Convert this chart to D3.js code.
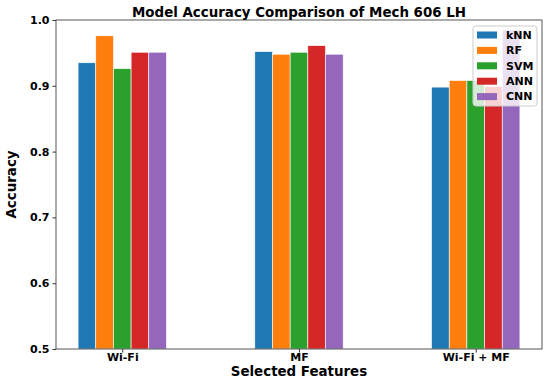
<!DOCTYPE html>
<html>
<head>
<meta charset="utf-8">
<script src="https://cdn.jsdelivr.net/npm/d3@7"></script>
<style>
  body { margin: 0; background: #fff; }
  text { font-family: "DejaVu Sans", sans-serif; font-weight: bold; }
</style>
</head>
<body>
<svg width="550" height="384"></svg>
<script>
var categories = ["Wi-Fi", "MF", "Wi-Fi + MF"];
var models = ["kNN", "RF", "SVM", "ANN", "CNN"];
var colors = ["#1f77b4", "#ff7f0e", "#2ca02c", "#d62728", "#9467bd"];
var knn = [0.935, 0.952, 0.898];
var rf  = [0.976, 0.948, 0.908];
var svmv = [0.926, 0.951, 0.908];
var ann = [0.951, 0.961, 0.899];
var cnn = [0.951, 0.948, 0.985];
var yTicks = [0.5, 0.6, 0.7, 0.8, 0.9, 1.0];

var series = [knn, rf, svmv, ann, cnn];

var svg = d3.select("svg"),
    margin = {top: 20, right: 8, bottom: 35, left: 56},
    width = +svg.attr("width") - margin.left - margin.right,
    height = +svg.attr("height") - margin.top - margin.bottom,
    g = svg.append("g").attr("transform", "translate(" + margin.left + "," + margin.top + ")");

var barW = 0.1;
var x = d3.scaleLinear().domain([-0.375, 2.375]).range([0, width]);
var y = d3.scaleLinear().domain([0.5, 1.0]).range([height, 0]);

// bars
series.forEach(function(vals, si) {
    g.selectAll(".bar" + si)
        .data(vals)
        .enter().append("rect")
        .attr("x", function(d, i) { return x(i + (si - 2.5) * barW); })
        .attr("y", function(d) { return y(d); })
        .attr("width", x(barW) - x(0))
        .attr("height", function(d) { return y(0.5) - y(d); })
        .style("fill", colors[si])
        .style("stroke", "white")
        .style("stroke-width", 0.6);
});

// axes
var xAxis = g.append("g")
    .attr("transform", "translate(0," + height + ")")
    .call(d3.axisBottom(x).tickValues([0, 1, 2]).tickFormat(function(d) { return categories[d]; }).tickSize(3.5));
var yAxis = g.append("g")
    .call(d3.axisLeft(y).tickValues(yTicks).tickFormat(d3.format(".1f")).tickSize(3.5));

[xAxis, yAxis].forEach(function(a) {
    a.select(".domain").remove();
    a.selectAll("text").style("font-size", "11px").style("fill", "#000");
    a.selectAll("line").style("stroke", "#333");
});
xAxis.selectAll("text").attr("dy", "0.5em");

// frame
g.append("rect")
    .attr("width", width).attr("height", height)
    .style("fill", "none").style("stroke", "#444").style("stroke-width", 0.9);

// title and labels
svg.append("text")
    .attr("x", margin.left + width / 2).attr("y", 17)
    .attr("text-anchor", "middle")
    .style("font-size", "13.4px")
    .text("Model Accuracy Comparison of Mech 606 LH");

svg.append("text")
    .attr("x", margin.left + width / 2).attr("y", 376)
    .attr("text-anchor", "middle")
    .style("font-size", "13.4px")
    .text("Selected Features");

svg.append("text")
    .attr("transform", "translate(16," + (margin.top + height / 2) + ") rotate(-90)")
    .attr("text-anchor", "middle")
    .style("font-size", "13.4px")
    .text("Accuracy");

// legend
var lg = g.append("g").attr("transform", "translate(" + (width - 69) + ",6)");
lg.append("rect")
    .attr("width", 64).attr("height", 80).attr("rx", 3)
    .style("fill", "white").style("fill-opacity", 0.8)
    .style("stroke", "#ccc").style("stroke-width", 1);
models.forEach(function(m, i) {
    lg.append("rect")
        .attr("x", 4).attr("y", 5.5 + i * 15.4)
        .attr("width", 20).attr("height", 7)
        .style("fill", colors[i]);
    lg.append("text")
        .attr("x", 33).attr("y", 12.8 + i * 15.4)
        .style("font-size", "11px")
        .text(m);
});
</script>
</body>
</html>
